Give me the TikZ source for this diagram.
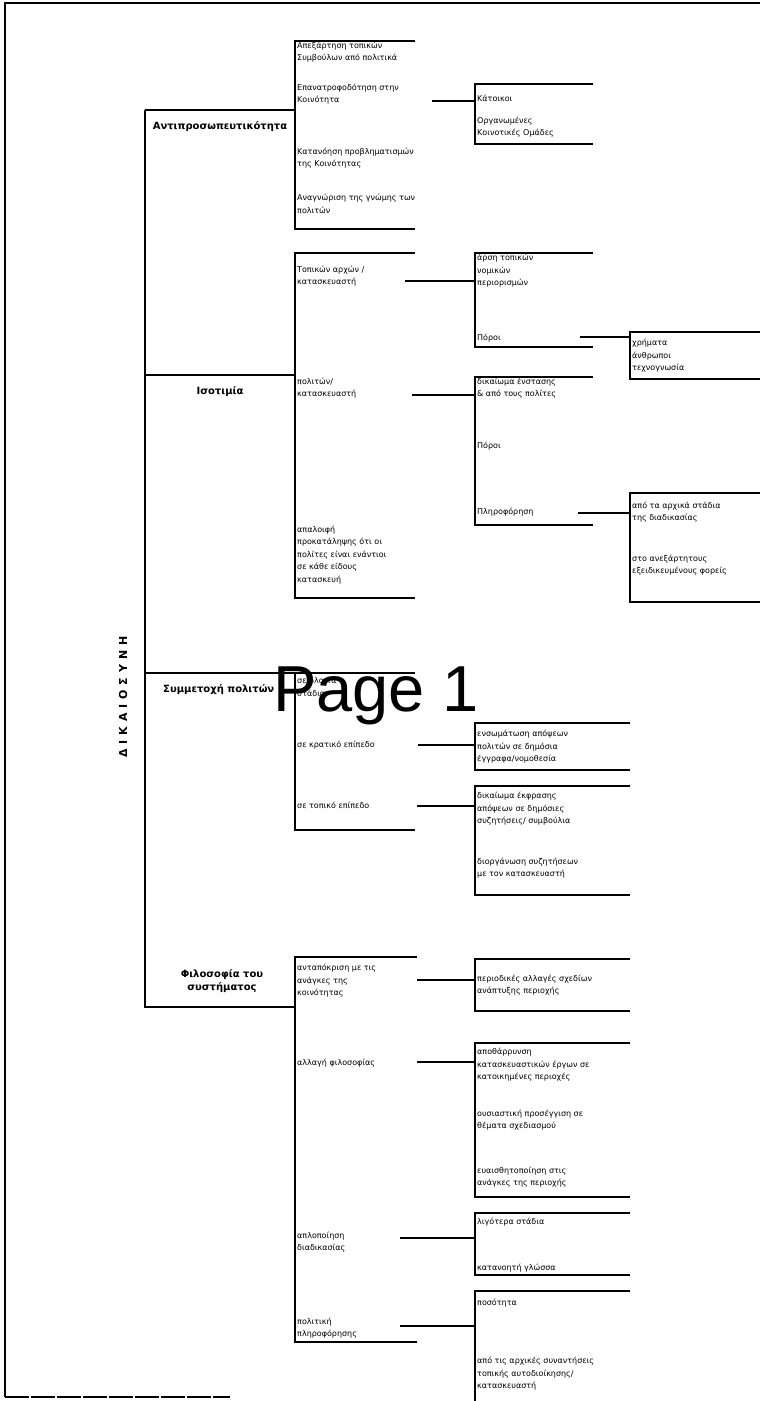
\documentclass[tikz,border=0pt]{standalone}
\usepackage{fontspec}
\setmainfont{DejaVu Sans}
\newfontfamily\pagefont{Liberation Sans}

\begin{document}
\begin{tikzpicture}[x=1pt, y=-1pt,
		rule/.style={line width=1.6pt},
		conn/.style={line width=2.8pt},
		lbl/.style={anchor=west, inner sep=0pt, align=left, font=\fontsize{8}{12.5}\selectfont},
		head/.style={inner sep=0pt, align=center, font=\bfseries\fontsize{10}{13}\selectfont}]
		\useasboundingbox (0,0) rectangle (760,1401);
		% page frame
		\draw[line width=1.2pt] (5,1397) -- (5,3) -- (760,3);
		\draw[line width=1.2pt, dash pattern=on 24pt off 2pt] (5,1397) -- (230,1397);

		% main spine
		\draw[rule] (145,110) -- (145,1007) -- (295,1007);
		\foreach \y in {110,375,673}
		\draw[rule] (145,\y) -- (295,\y);
		\node[rotate=90, inner sep=0pt, font=\bfseries\fontsize{11}{11}\selectfont\addfontfeatures{LetterSpace=45}] (dik) at (123,697) {ΔΙΚΑΙΟΣΥΝΗ};

		\node[head] (rep) at (220,127) {Αντιπροσωπευτικότητα};
		\node[head] (iso) at (220,392) {Ισοτιμία};
		\node[head, anchor=west] (par) at (163,690) {Συμμετοχή πολιτών};
		\node[head] (phi) at (222,981) {Φιλοσοφία του\\συστήματος};

		% open boxes: name/left/right/top/bottom
		\foreach \n/\xa/\xb/\ya/\yb in {A/295/415/41/229, A1/475/593/84/144,
			B/295/415/253/598, B1/475/593/253/347, B1a/630/760/332/379,
			B2/475/593/377/525, B2a/630/760/493/602,
			C/295/415/673/830, C1/475/630/723/770, C2/475/630/786/895,
			D/295/417/957/1342, D1/475/630/959/1011, D2/475/630/1043/1197,
			D3/475/630/1213/1275}
		{
			\coordinate (\n) at (\xa,\ya);
			\draw[rule] (\xb,\ya) -- (\xa,\ya) -- (\xa,\yb) -- (\xb,\yb);
		}
		\coordinate (D4) at (475,1291);
		\draw[rule] (630,1291) -- (D4) -- (475,1405);

		% connectors
		\foreach \n/\x/\y in {cA1/432/101, cB1/405/281, cB2/412/395, cB1a/580/337,
			cB2a/578/513, cC1/418/745, cC2/417/806, cD1/417/980, cD2/417/1062,
			cD3/400/1238, cD4/400/1326}
		\coordinate (\n) at (\x,\y);
		\foreach \a/\b in {cA1/A1, cB1/B1, cB2/B2, cB1a/B1a, cB2a/B2a, cC1/C1,
			cC2/C2, cD1/D1, cD2/D2, cD3/D3, cD4/D4}
		\draw[conn] (\a) -- (\a -| \b);

		% Antiprosopeftikotita
		\node[lbl] (a1) at (297,52) {Απεξάρτηση τοπικών\\Συμβούλων από πολιτικά};
		\node[lbl] (a2) at (297,94) {Επανατροφοδότηση στην\\Κοινότητα};
		\node[lbl] (a3) at (297,158) {Κατανόηση προβληματισμών\\της Κοινότητας};
		\node[lbl] (a4) at (297,204) {Αναγνώριση της γνώμης των\\πολιτών};
		\node[lbl] (a21) at (477,98) {Κάτοικοι};
		\node[lbl] (a22) at (477,127) {Οργανωμένες\\Κοινοτικές Ομάδες};

		% Isotimia
		\node[lbl] (b1) at (297,276) {Τοπικών αρχών /\\κατασκευαστή};
		\node[lbl] (b2) at (297,388) {πολιτών/\\κατασκευαστή};
		\node[lbl] (b3) at (297,555) {απαλοιφή\\προκατάληψης ότι οι\\πολίτες είναι ενάντιοι\\σε κάθε είδους\\κατασκευή};
		\node[lbl] (b11) at (477,271) {άρση τοπικών\\νομικών\\περιορισμών};
		\node[lbl] (b12) at (477,338) {Πόροι};
		\node[lbl] (b121) at (632,356) {χρήματα\\άνθρωποι\\τεχνογνωσία};
		\node[lbl] (b21) at (477,388) {δικαίωμα ένστασης\\\& από τους πολίτες};
		\node[lbl] (b22) at (477,446) {Πόροι};
		\node[lbl] (b23) at (477,512) {Πληροφόρηση};
		\node[lbl] (b231) at (632,512) {από τα αρχικά στάδια\\της διαδικασίας};
		\node[lbl] (b232) at (632,565) {στο ανεξάρτητους\\εξειδικευμένους φορείς};

		% Symmetoxi
		\node[lbl] (c1) at (297,687) {σε όλα τα\\στάδια};
		\node[lbl] (c2) at (297,745) {σε κρατικό επίπεδο};
		\node[lbl] (c3) at (297,805) {σε τοπικό επίπεδο};
		\node[lbl] (c21) at (477,747) {ενσωμάτωση απόψεων\\πολιτών σε δημόσια\\έγγραφα/νομοθεσία};
		\node[lbl] (c31) at (477,809) {δικαίωμα έκφρασης\\απόψεων σε δημόσιες\\συζητήσεις/ συμβούλια};
		\node[lbl] (c32) at (477,868) {διοργάνωση συζητήσεων\\με τον κατασκευαστή};

		% Filosofia
		\node[lbl] (d1) at (297,981) {ανταπόκριση με τις\\ανάγκες της\\κοινότητας};
		\node[lbl] (d2) at (297,1063) {αλλαγή φιλοσοφίας};
		\node[lbl] (d3) at (297,1242) {απλοποίηση\\διαδικασίας};
		\node[lbl] (d4) at (297,1328) {πολιτική\\πληροφόρησης};
		\node[lbl] (d11) at (477,985) {περιοδικές αλλαγές σχεδίων\\ανάπτυξης περιοχής};
		\node[lbl] (d21) at (477,1065) {αποθάρρυνση\\κατασκευαστικών έργων σε\\κατοικημένες περιοχές};
		\node[lbl] (d22) at (477,1120) {ουσιαστική προσέγγιση σε\\θέματα σχεδιασμού};
		\node[lbl] (d23) at (477,1177) {ευαισθητοποίηση στις\\ανάγκες της περιοχής};
		\node[lbl] (d31) at (477,1222) {λιγότερα στάδια};
		\node[lbl] (d32) at (477,1268) {κατανοητή γλώσσα};
		\node[lbl] (d41) at (477,1303) {ποσότητα};
		\node[lbl] (d42) at (477,1374) {από τις αρχικές συναντήσεις\\τοπικής αυτοδιοίκησης/\\κατασκευαστή};

		\node[anchor=base west, inner sep=0pt, font=\pagefont\fontsize{65}{65}\selectfont] (pg) at (273,711) {Page 1};
	\end{tikzpicture}
\end{document}
